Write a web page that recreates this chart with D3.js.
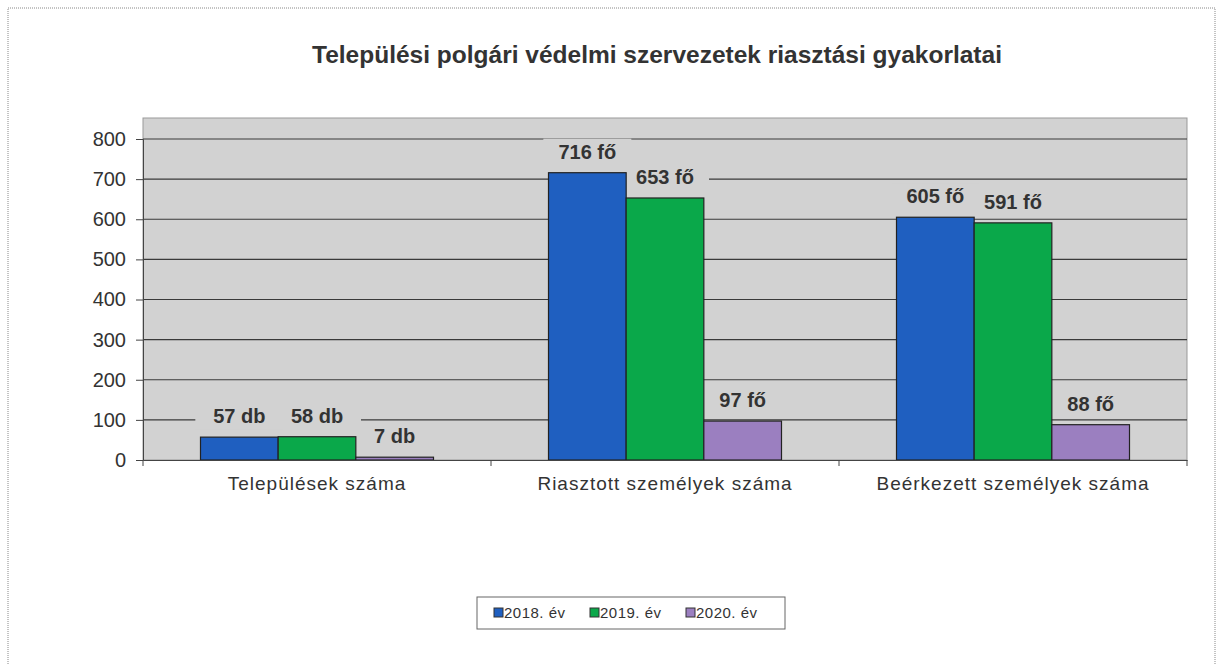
<!DOCTYPE html>
<html lang="hu">
<meta charset="utf-8">
<head>
    <script src="https://d3js.org/d3.v7.min.js"></script>
</head>
<body style="margin:0;background:#fff">
<style>
	svg text {
	font-family: "Liberation Sans", Arial, sans-serif;
	fill: #333;
	}
</style>
<script>
// data
var categories = ["Települések száma", "Riasztott személyek száma", "Beérkezett személyek száma"];
var seriesNames = ["2018. év", "2019. év", "2020. év"];
var values2018 = [57, 716, 605];
var values2019 = [58, 653, 591];
var values2020 = [7, 97, 88];
var units = ["db", "fő", "fő"];
var yTicks = [0, 100, 200, 300, 400, 500, 600, 700, 800];
var colors = ["#1f5fc0", "#0aa84a", "#9b7fc0"];

var series = [values2018, values2019, values2020];

var W = 1217, H = 664;
var plotL = 143, plotR = 1187, plotT = 118, plotB = 460;
var plotBg = "#d2d2d2";

var svg = d3.select("body").append("svg")
	.attr("width", W)
	.attr("height", H);

// outer dotted frame
svg.append("rect")
	.attr("x", 8).attr("y", 8)
	.attr("width", 1207).attr("height", 700)
	.attr("fill", "none")
	.attr("stroke", "#888")
	.attr("stroke-dasharray", "1,1");

svg.append("text")
	.attr("x", 657).attr("y", 63)
	.attr("text-anchor", "middle")
	.style("font-size", "24.5px")
	.style("font-weight", "bold")
	.text("Települési polgári védelmi szervezetek riasztási gyakorlatai");

var y = d3.scaleLinear().domain([0, 800]).range([plotB, 139]);
var x0 = d3.scaleBand().domain(categories).range([plotL, plotR]);
var x1 = d3.scaleBand().domain(seriesNames).range([0, 233]);
var groupOff = (x0.bandwidth() - 233) / 2;

// plot background
svg.append("rect")
	.attr("x", plotL).attr("y", plotT)
	.attr("width", plotR - plotL).attr("height", plotB - plotT)
	.attr("fill", plotBg)
	.attr("stroke", "#999");

// gridlines
svg.append("g").selectAll("line")
	.data(yTicks.slice(1))
	.enter().append("line")
	.attr("x1", plotL).attr("x2", plotR)
	.attr("y1", function(d) { return y(d); })
	.attr("y2", function(d) { return y(d); })
	.attr("stroke", "#3a3a3a")
	.attr("stroke-width", 1.2);

// y axis
var yAxis = svg.append("g")
	.attr("transform", "translate(" + plotL + ",0)")
	.call(d3.axisLeft(y).tickValues(yTicks).tickSize(7).tickPadding(10));
yAxis.select(".domain").attr("stroke", "#444");
yAxis.selectAll(".tick line").attr("stroke", "#444");
yAxis.selectAll("text").style("font-size", "20px").attr("fill", "#333");

var groups = svg.selectAll(".grp")
	.data(categories)
	.enter().append("g")
	.attr("transform", function(d) { return "translate(" + (x0(d) + groupOff) + ",0)"; });

function labelPos(s, si) {
	return function(d, i) {
		return "translate(" + (x1(s) + x1.bandwidth() / 2) + "," + (y(series[si][i]) - 14) + ")";
	};
}

// label backgrounds first (they hide gridlines, bars are drawn over them)
seriesNames.forEach(function(s, si) {
	groups.append("rect")
		.attr("transform", labelPos(s, si))
		.attr("x", -44).attr("y", -20)
		.attr("width", 88).attr("height", 26)
		.attr("fill", plotBg);
});

// bars
seriesNames.forEach(function(s, si) {
	groups.append("rect")
		.attr("x", x1(s))
		.attr("y", function(d, i) { return y(series[si][i]); })
		.attr("width", x1.bandwidth())
		.attr("height", function(d, i) { return plotB - y(series[si][i]); })
		.attr("fill", colors[si])
		.attr("stroke", "#222")
		.attr("stroke-width", 1.2);
});

// value labels
seriesNames.forEach(function(s, si) {
	groups.append("text")
		.attr("transform", labelPos(s, si))
		.attr("text-anchor", "middle")
		.style("font-size", "20px")
		.style("font-weight", "bold")
		.text(function(d, i) { return series[si][i] + " " + units[i]; });
});

// x axis
var xAxis = svg.append("g")
	.attr("transform", "translate(0," + plotB + ")")
	.call(d3.axisBottom(x0).tickSize(0).tickPadding(17));
xAxis.select(".domain").attr("stroke", "#444");
xAxis.selectAll("text")
	.style("font-size", "19px")
	.style("letter-spacing", "1px")
	.attr("fill", "#333");
svg.append("g").selectAll("line")
	.data(d3.range(categories.length + 1))
	.enter().append("line")
	.attr("x1", function(i) { return plotL + i * x0.step(); })
	.attr("x2", function(i) { return plotL + i * x0.step(); })
	.attr("y1", plotB).attr("y2", plotB + 6)
	.attr("stroke", "#444");

// legend
var leg = svg.append("g").attr("transform", "translate(477,597)");
leg.append("rect")
	.attr("width", 308).attr("height", 32)
	.attr("fill", "#fff")
	.attr("stroke", "#666");
var item = leg.selectAll(".it")
	.data(seriesNames)
	.enter().append("g")
	.attr("transform", function(d, i) { return "translate(" + (17 + i * 96) + ",16)"; });
item.append("rect")
	.attr("x", 0).attr("y", -5)
	.attr("width", 9).attr("height", 9)
	.attr("fill", function(d, i) { return colors[i]; })
	.attr("stroke", "#333");
item.append("text")
	.attr("x", 10).attr("y", 5)
	.style("font-size", "15px")
	.style("letter-spacing", "0.5px")
	.text(function(d) { return d; });
</script>
</body>
</html>
